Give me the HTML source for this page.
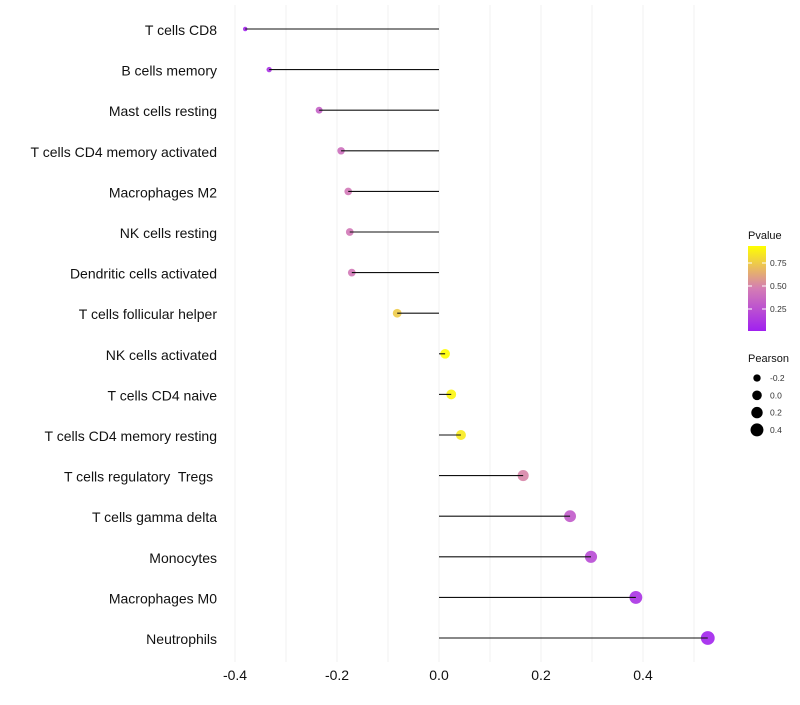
<!DOCTYPE html>
<html><head><meta charset="utf-8"><style>
body{margin:0;background:#fff;font-family:"Liberation Sans",sans-serif}
svg text{font-family:"Liberation Sans",sans-serif;white-space:pre}
</style></head><body>
<svg id="chart" width="800" height="700"></svg>
<script>
const categories=["T cells CD8","B cells memory","Mast cells resting","T cells CD4 memory activated","Macrophages M2","NK cells resting","Dendritic cells activated","T cells follicular helper","NK cells activated","T cells CD4 naive","T cells CD4 memory resting","T cells regulatory  Tregs ","T cells gamma delta","Monocytes","Macrophages M0","Neutrophils"];
const pearson=[-0.380,-0.333,-0.235,-0.192,-0.178,-0.175,-0.171,-0.082,0.012,0.024,0.043,0.165,0.257,0.298,0.386,0.527];
const pvalue=[0.04,0.1,0.33,0.4,0.45,0.45,0.45,0.75,0.93,0.9,0.86,0.5,0.3,0.22,0.1,0.03];
const xTicks=[-0.4,-0.2,0.0,0.2,0.4];
const xTickLabels=["-0.4","-0.2","0.0","0.2","0.4"];
const xGrid=[-0.4,-0.3,-0.2,-0.1,0,0.1,0.2,0.3,0.4,0.5];
const pLegendTicks=[0.25,0.5,0.75];
const pLegendLabels=["0.25","0.50","0.75"];
const sizeLegend=[-0.2,0.0,0.2,0.4];
const sizeLegendLabels=["-0.2","0.0","0.2","0.4"];

const NS="http://www.w3.org/2000/svg";
const svg=document.getElementById('chart');
function mk(t,a,p){const e=document.createElementNS(NS,t);for(const k in a)e.setAttribute(k,a[k]);(p||svg).appendChild(e);return e;}
const x=v=>439+v*510;
const y=i=>29+i*40.6;
const pMin=0.01,pMax=0.935;
function lerp(a,b,t){return a+(b-a)*t}
const stops=[[0,[160,32,240]],[0.5,[212,125,180]],[1,[255,255,0]]];
function color(p){let t=Math.max(0,Math.min(1,(p-pMin)/(pMax-pMin)));let i=t<0.5?0:1;const a=stops[i],b=stops[i+1];const u=(t-a[0])/(b[0]-a[0]);return `rgb(${a[1].map((c,k)=>Math.round(lerp(c,b[1][k],u))).join(',')})`;}
const sMin=-0.38,sMax=0.527;
function rad(v){const t=Math.max(0,(v-sMin)/(sMax-sMin));return Math.sqrt(5+(48-5)*t);}

xGrid.forEach(g=>{const l=mk('line',{x1:x(g),x2:x(g),y1:5,y2:662,stroke:'#f0f0f0','stroke-width':1});

});
xTicks.forEach((t,i)=>{const e=mk('text',{x:x(t),y:680,'text-anchor':'middle','font-size':14,fill:'#111'});e.textContent=xTickLabels[i];

});
categories.forEach((c,i)=>{
 const e=mk('text',{x:217,y:y(i)+6,'text-anchor':'end','font-size':14,fill:'#111'});e.textContent=c;
 
 
 const pt=mk('circle',{cx:x(pearson[i]),cy:y(i),r:rad(pearson[i]),fill:color(pvalue[i]),'fill-opacity':0.9});
 
 
 const ln=mk('line',{x1:x(0),x2:x(pearson[i]),y1:y(i),y2:y(i),stroke:'#111','stroke-width':1.1});
 
 
});
const defs=mk('defs',{});const gr=mk('linearGradient',{id:'pg',x1:0,y1:1,x2:0,y2:0},defs);
[0,0.25,0.5,0.75,1].forEach(s=>mk('stop',{offset:s,'stop-color':color(pMin+s*(pMax-pMin))},gr));
const lt=mk('text',{x:748,y:239,'font-size':11,fill:'#111'});lt.textContent='Pvalue';


const bar=mk('rect',{x:748,y:246,width:18,height:85,fill:'url(#pg)'});


const py=p=>332-p*92;
pLegendTicks.forEach((p,i)=>{mk('line',{x1:748,x2:752,y1:py(p),y2:py(p),stroke:'#fff'});mk('line',{x1:762,x2:766,y1:py(p),y2:py(p),stroke:'#fff'});
 const t=mk('text',{x:770,y:py(p)+3,'font-size':8.5,fill:'#333'});t.textContent=pLegendLabels[i];
 
 });
const st=mk('text',{x:748,y:362,'font-size':11,fill:'#111'});st.textContent='Pearson';


sizeLegend.forEach((v,i)=>{const yy=378+i*17.3;const c=mk('circle',{cx:757,cy:yy,r:rad(v),fill:'#000'});
 
 
 const t=mk('text',{x:770,y:yy+3,'font-size':8.5,fill:'#333'});t.textContent=sizeLegendLabels[i];
 
 });
</script>
</body></html>
